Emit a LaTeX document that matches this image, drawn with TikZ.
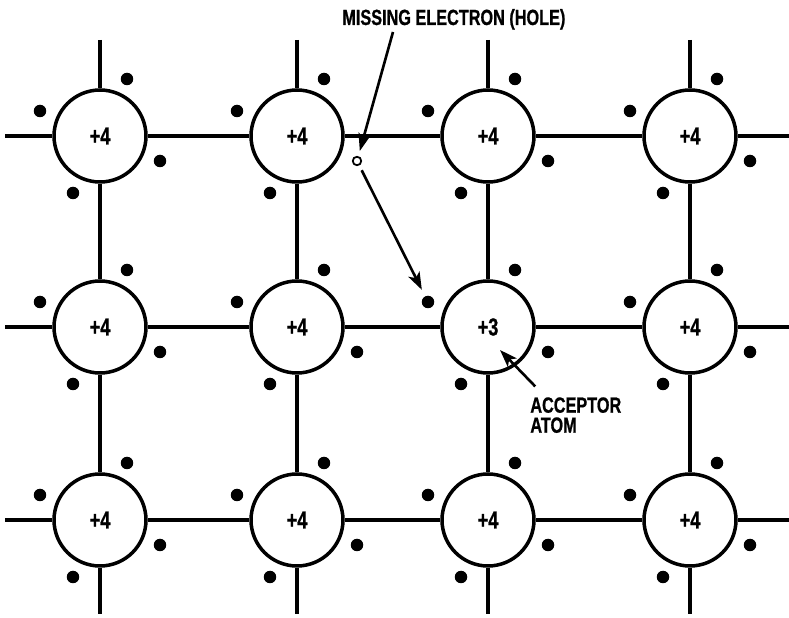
\documentclass[tikz,border=0pt]{standalone}
\usepackage{fontspec}
\setmainfont{Liberation Sans}
\newfontfamily\capfont{Liberation Sans}[FakeStretch=0.74,UprightFont=* Bold,FakeBold=0.8]
\usetikzlibrary{arrows.meta}
\tikzset{
  atom/.style={circle,draw,line width=2pt,minimum size=1.84cm,inner sep=0pt,fill=white,
    font=\capfont\fontsize{14}{14}\selectfont},
  bond/.style={-,line width=2.2pt},
  elec/.style={circle,fill,inner sep=0pt,minimum size=0.25cm},
  hole/.style={circle,draw,line width=1pt,inner sep=0pt,minimum size=0.17cm},
  pointer/.style={-{Stealth[length=10pt,width=7pt,inset=2.5pt]},line width=1.5pt},
  caption/.style={inner sep=0pt,font=\capfont\fontsize{12.5}{11.4}\selectfont}
}
\begin{document}
\begin{tikzpicture}[x=0.02cm,y=-0.02cm]
        \useasboundingbox (0,0) rectangle (789,618);
        % atomi
        \node[atom] (a11) at (100,136) {+4};
        \node[atom] (a12) at (297,136) {+4};
        \node[atom] (a13) at (488,136) {+4};
        \node[atom] (a14) at (690,136) {+4};
        \node[atom] (a21) at (100,327) {+4};
        \node[atom] (a22) at (297,327) {+4};
        \node[atom] (a23) at (488,327) {+3};
        \node[atom] (a24) at (690,327) {+4};
        \node[atom] (a31) at (100,520) {+4};
        \node[atom] (a32) at (297,520) {+4};
        \node[atom] (a33) at (488,520) {+4};
        \node[atom] (a34) at (690,520) {+4};
        % estremi liberi
        \coordinate (l1) at (5,136);\coordinate (l2) at (5,327);\coordinate (l3) at (5,520);
        \coordinate (r1) at (789,136);\coordinate (r2) at (789,327);\coordinate (r3) at (789,520);
        \coordinate (t1) at (100,40);\coordinate (t2) at (297,40);\coordinate (t3) at (488,40);\coordinate (t4) at (690,40);
        \coordinate (b1) at (100,614);\coordinate (b2) at (297,614);\coordinate (b3) at (488,614);\coordinate (b4) at (690,614);
        % legami orizzontali
        \draw[bond] (l1) -- (a11);\draw[bond] (a11) -- (a12);\draw[bond] (a12) -- (a13);\draw[bond] (a13) -- (a14);\draw[bond] (a14) -- (r1);
        \draw[bond] (l2) -- (a21);\draw[bond] (a21) -- (a22);\draw[bond] (a22) -- (a23);\draw[bond] (a23) -- (a24);\draw[bond] (a24) -- (r2);
        \draw[bond] (l3) -- (a31);\draw[bond] (a31) -- (a32);\draw[bond] (a32) -- (a33);\draw[bond] (a33) -- (a34);\draw[bond] (a34) -- (r3);
        % legami verticali
        \draw[bond] (t1) -- (a11);\draw[bond] (a11) -- (a21);\draw[bond] (a21) -- (a31);\draw[bond] (a31) -- (b1);
        \draw[bond] (t2) -- (a12);\draw[bond] (a12) -- (a22);\draw[bond] (a22) -- (a32);\draw[bond] (a32) -- (b2);
        \draw[bond] (t3) -- (a13);\draw[bond] (a13) -- (a23);\draw[bond] (a23) -- (a33);\draw[bond] (a33) -- (b3);
        \draw[bond] (t4) -- (a14);\draw[bond] (a14) -- (a24);\draw[bond] (a24) -- (a34);\draw[bond] (a34) -- (b4);
        % elettroni
        \foreach \a in {a11,a13,a14,a21,a22,a23,a24,a31,a32,a33,a34}
          \foreach \dx/\dy [count=\i] in {27/-57,-60/-25,60/25,-27/57}
            \path (\a) ++(\dx,\dy) node[elec] (\a-\i) {};
        \path (a12) ++(27,-57) node[elec] (a12-1) {};
        \path (a12) ++(-60,-25) node[elec] (a12-2) {};
        \path (a12) ++(-27,57) node[elec] (a12-4) {};
        % lacuna
        \path (a12) ++(60,25) node[hole] (hole) {};
        % scritte
        \node[caption,anchor=base west] (title) at (342,25) {MISSING ELECTRON (HOLE)};
        \node[caption,anchor=north west,align=left] (acc) at (530,397) {ACCEPTOR\\ATOM};
        \coordinate (titlefoot) at (393,32);
        \coordinate (acctip) at (500,350);
        % frecce
        \draw[pointer,shorten >=3pt] (titlefoot) -- (hole);
        \draw[pointer,shorten <=3pt,shorten >=4pt] (hole) -- (a23-2);
        \draw[pointer] ([xshift=3pt,yshift=6pt]acc.north west) -- (acctip);
    \end{tikzpicture}
\end{document}
